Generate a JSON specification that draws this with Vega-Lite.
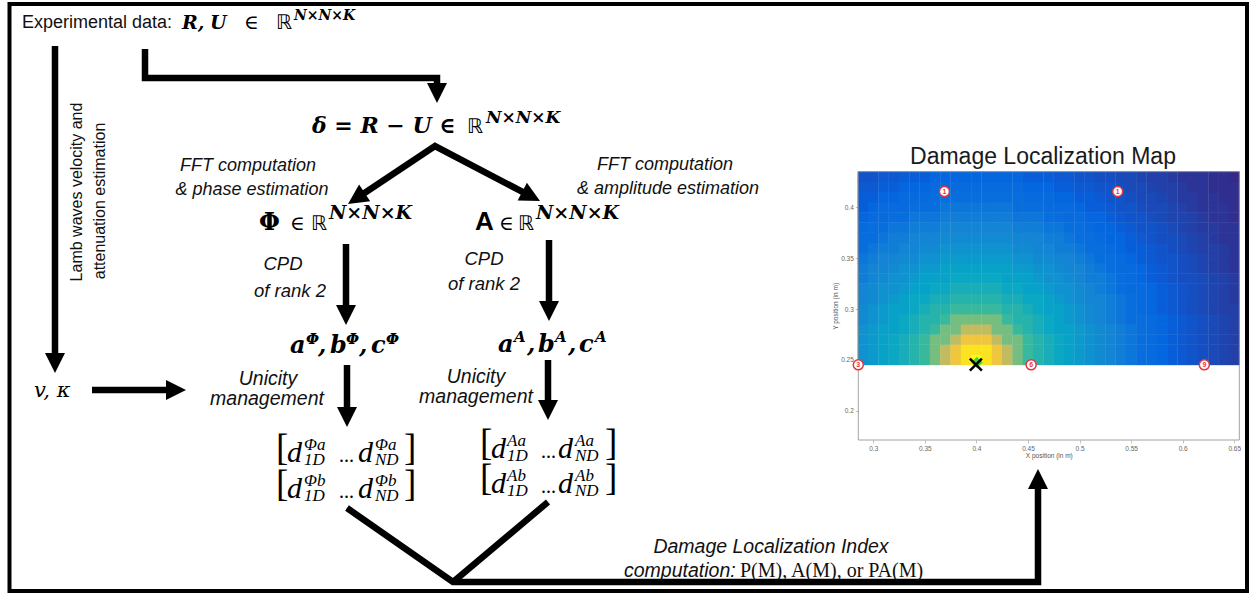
{
"$schema": "https://vega.github.io/schema/vega-lite/v6.json",
"width": 1249, "height": 594, "autosize": "none", "padding": 0, "background": "white",
"config": {"view": {"stroke": null}},
"resolve": {"scale": {"x": "independent", "y": "independent"}, "axis": {"x": "independent", "y": "independent"}},
"layer": [
{
"encoding": {
"x": {"field": "px", "type": "quantitative", "scale": {"domain": [0, 1249], "range": [0, 1249], "nice": false, "zero": false}, "axis": null},
"y": {"field": "py", "type": "quantitative", "scale": {"domain": [0, 594], "range": [0, 594], "nice": false, "zero": false}, "axis": null}
},
"layer": [
{"data": {"values": [{"px": 9.5, "py": 4, "px2": 1247, "py2": 591}]},
 "mark": {"type": "rect", "fill": "transparent", "stroke": "black", "strokeWidth": 4},
 "encoding": {"x2": {"field": "px2"}, "y2": {"field": "py2"}}},
{"data": {"values": [
 {"g": "a", "k": 1, "px": 55, "py": 46}, {"g": "a", "k": 2, "px": 55, "py": 360},
 {"g": "b", "k": 1, "px": 145, "py": 49}, {"g": "b", "k": 2, "px": 145, "py": 78}, {"g": "b", "k": 3, "px": 437, "py": 78}, {"g": "b", "k": 4, "px": 437, "py": 92},
 {"g": "c", "k": 1, "px": 356.3, "py": 198.5}, {"g": "c", "k": 2, "px": 435, "py": 146}, {"g": "c", "k": 3, "px": 531.1, "py": 196.4},
 {"g": "d", "k": 1, "px": 346, "py": 244}, {"g": "d", "k": 2, "px": 346, "py": 312},
 {"g": "e", "k": 1, "px": 549, "py": 240}, {"g": "e", "k": 2, "px": 549, "py": 308},
 {"g": "f", "k": 1, "px": 347, "py": 365}, {"g": "f", "k": 2, "px": 347, "py": 414},
 {"g": "g", "k": 1, "px": 548, "py": 360}, {"g": "g", "k": 2, "px": 548, "py": 407},
 {"g": "h", "k": 1, "px": 92, "py": 390}, {"g": "h", "k": 2, "px": 172, "py": 390},
 {"g": "i", "k": 1, "px": 347, "py": 508}, {"g": "i", "k": 2, "px": 453, "py": 582}, {"g": "i", "k": 3, "px": 1038, "py": 582}, {"g": "i", "k": 4, "px": 1038, "py": 484},
 {"g": "j", "k": 1, "px": 548, "py": 502}, {"g": "j", "k": 2, "px": 453, "py": 582}
 ]},
 "mark": {"type": "line", "color": "black", "strokeWidth": 6.5, "strokeJoin": "miter", "strokeCap": "butt"},
 "encoding": {"detail": {"field": "g"}, "order": {"field": "k", "type": "quantitative"}}},
{"data": {"values": [
 {"px": 55, "py": 373, "ang": 180}, {"px": 437, "py": 103, "ang": 180}, {"px": 348, "py": 204, "ang": 236.3}, {"px": 540, "py": 201, "ang": 117.6},
 {"px": 346, "py": 325, "ang": 180}, {"px": 549, "py": 321, "ang": 180}, {"px": 347, "py": 427, "ang": 180}, {"px": 548, "py": 420, "ang": 180},
 {"px": 186, "py": 390, "ang": 90}, {"px": 1038, "py": 469, "ang": 0}]},
 "mark": {"type": "point", "shape": "M0,0L1,2L-1,2Z", "size": 400, "filled": true, "color": "black", "opacity": 1, "strokeWidth": 0},
 "encoding": {"angle": {"field": "ang", "type": "quantitative", "scale": null}}},
{"data": {"values": [{"px": 22, "py": 28, "t": "Experimental data:"}]},
 "mark": {"type": "text", "font": "Liberation Sans", "fontSize": 18, "align": "left", "baseline": "alphabetic", "color": "#111"},
 "encoding": {"text": {"field": "t"}}},
{"data": {"values": [{"px": 1043, "py": 164, "t": "Damage Localization Map"}]},
 "mark": {"type": "text", "font": "Liberation Sans", "fontSize": 23, "align": "center", "baseline": "alphabetic", "color": "#1a1a1a"},
 "encoding": {"text": {"field": "t"}}},
{"data": {"values": [{"px": 77, "py": 192, "t": "Lamb waves velocity and"}, {"px": 100, "py": 201, "t": "attenuation estimation"}]},
 "mark": {"type": "text", "font": "Liberation Sans", "fontSize": 16, "angle": 270, "align": "center", "baseline": "middle", "color": "#111"},
 "encoding": {"text": {"field": "t"}}},
{"data": {"values": [{"px": 248, "py": 171, "t": "FFT computation"}, {"px": 252, "py": 195, "t": "& phase estimation"}, {"px": 665, "py": 170, "t": "FFT computation"}, {"px": 668, "py": 194, "t": "& amplitude estimation"}]},
 "mark": {"type": "text", "font": "Liberation Sans", "fontSize": 18, "fontStyle": "italic", "align": "center", "baseline": "alphabetic", "color": "#111"},
 "encoding": {"text": {"field": "t"}}},
{"data": {"values": [{"px": 283, "py": 270, "t": "CPD"}, {"px": 290, "py": 297, "t": "of rank 2"}, {"px": 484, "py": 265, "t": "CPD"}, {"px": 484, "py": 290, "t": "of rank 2"}]},
 "mark": {"type": "text", "font": "Liberation Sans", "fontSize": 18.5, "fontStyle": "italic", "align": "center", "baseline": "alphabetic", "color": "#111"},
 "encoding": {"text": {"field": "t"}}},
{"data": {"values": [{"px": 268, "py": 385, "t": "Unicity"}, {"px": 267, "py": 405, "t": "management"}, {"px": 476, "py": 383, "t": "Unicity"}, {"px": 476, "py": 403, "t": "management"}, {"px": 771, "py": 553, "t": "Damage Localization Index"}]},
 "mark": {"type": "text", "font": "Liberation Sans", "fontSize": 19.5, "fontStyle": "italic", "align": "center", "baseline": "alphabetic", "color": "#111"},
 "encoding": {"text": {"field": "t"}}},
{"data": {"values": [{"px": 624, "py": 577, "t": "computation:"}]},
 "mark": {"type": "text", "font": "Liberation Sans", "fontSize": 19.5, "fontStyle": "italic", "align": "left", "baseline": "alphabetic", "color": "#111"},
 "encoding": {"text": {"field": "t"}}},
{"data": {"values": [{"px": 740, "py": 577, "t": "P(M), A(M), or PA(M)"}]},
 "mark": {"type": "text", "font": "Liberation Serif", "fontSize": 20, "align": "left", "baseline": "alphabetic", "color": "#111"},
 "encoding": {"text": {"field": "t"}}},
{"data": {"values": [{"px": 182, "py": 29, "t": "R,"}, {"px": 210, "py": 29, "t": "U"}]},
 "mark": {"type": "text", "font": "DejaVu Serif", "fontSize": 19, "fontWeight": "bold", "fontStyle": "italic", "align": "left", "baseline": "alphabetic", "color": "black"},
 "encoding": {"text": {"field": "t"}}},
{"data": {"values": [{"px": 312, "py": 133, "t": "δ = R − U ∈"}]},
 "mark": {"type": "text", "font": "DejaVu Serif", "fontSize": 22, "fontWeight": "bold", "fontStyle": "italic", "align": "left", "baseline": "alphabetic", "color": "black"},
 "encoding": {"text": {"field": "t"}}},
{"data": {"values": [{"px": 290, "py": 353, "t": "a"}, {"px": 318, "py": 353, "t": ","}, {"px": 330, "py": 353, "t": "b"}, {"px": 359, "py": 353, "t": ","}, {"px": 371, "py": 353, "t": "c"}, {"px": 498, "py": 352, "t": "a"}, {"px": 527, "py": 352, "t": ","}, {"px": 538, "py": 352, "t": "b"}, {"px": 568, "py": 352, "t": ","}, {"px": 579, "py": 352, "t": "c"}]},
 "mark": {"type": "text", "font": "DejaVu Serif", "fontSize": 24, "fontWeight": "bold", "fontStyle": "italic", "align": "left", "baseline": "alphabetic", "color": "black"},
 "encoding": {"text": {"field": "t"}}},
{"data": {"values": [{"px": 294, "py": 20, "t": "N×N×K"}]},
 "mark": {"type": "text", "font": "DejaVu Serif", "fontSize": 14, "fontWeight": "bold", "fontStyle": "italic", "align": "left", "baseline": "alphabetic", "color": "black"},
 "encoding": {"text": {"field": "t"}}},
{"data": {"values": [{"px": 486, "py": 123, "t": "N×N×K"}]},
 "mark": {"type": "text", "font": "DejaVu Serif", "fontSize": 17, "fontWeight": "bold", "fontStyle": "italic", "align": "left", "baseline": "alphabetic", "color": "black"},
 "encoding": {"text": {"field": "t"}}},
{"data": {"values": [{"px": 329, "py": 219, "t": "N×N×K"}, {"px": 536, "py": 219, "t": "N×N×K"}]},
 "mark": {"type": "text", "font": "DejaVu Serif", "fontSize": 19, "fontWeight": "bold", "fontStyle": "italic", "align": "left", "baseline": "alphabetic", "color": "black"},
 "encoding": {"text": {"field": "t"}}},
{"data": {"values": [{"px": 306, "py": 344, "t": "Φ"}, {"px": 346, "py": 344, "t": "Φ"}, {"px": 386, "py": 344, "t": "Φ"}, {"px": 514, "py": 342, "t": "A"}, {"px": 555, "py": 342, "t": "A"}, {"px": 595, "py": 342, "t": "A"}]},
 "mark": {"type": "text", "font": "DejaVu Serif", "fontSize": 15, "fontWeight": "bold", "fontStyle": "italic", "align": "left", "baseline": "alphabetic", "color": "black"},
 "encoding": {"text": {"field": "t"}}},
{"data": {"values": [{"px": 244, "py": 29, "t": "∈"}, {"px": 290, "py": 230, "t": "∈"}, {"px": 499, "py": 230, "t": "∈"}]},
 "mark": {"type": "text", "font": "DejaVu Serif", "fontSize": 20, "align": "left", "baseline": "alphabetic", "color": "black"},
 "encoding": {"text": {"field": "t"}}},
{"data": {"values": [{"px": 276, "py": 29, "t": "ℝ"}, {"px": 467, "py": 133, "t": "ℝ"}, {"px": 311, "py": 230, "t": "ℝ"}, {"px": 518, "py": 230, "t": "ℝ"}]},
 "mark": {"type": "text", "font": "DejaVu Sans", "fontSize": 20, "align": "left", "baseline": "alphabetic", "color": "black"},
 "encoding": {"text": {"field": "t"}}},
{"data": {"values": [{"px": 259, "py": 230, "t": "Φ"}]},
 "mark": {"type": "text", "font": "DejaVu Serif", "fontSize": 24, "fontWeight": "bold", "align": "left", "baseline": "alphabetic", "color": "black"},
 "encoding": {"text": {"field": "t"}}},
{"data": {"values": [{"px": 475, "py": 230, "t": "A"}]},
 "mark": {"type": "text", "font": "Liberation Sans", "fontSize": 26, "fontWeight": "bold", "align": "left", "baseline": "alphabetic", "color": "black"},
 "encoding": {"text": {"field": "t"}}},
{"data": {"values": [{"px": 34, "py": 397, "t": "v, κ"}]},
 "mark": {"type": "text", "font": "DejaVu Serif", "fontSize": 21, "fontStyle": "italic", "align": "left", "baseline": "alphabetic", "color": "black"},
 "encoding": {"text": {"field": "t"}}},
{"data": {"values": [{"px": 276, "py": 460, "t": "["}, {"px": 404, "py": 460, "t": "]"}, {"px": 276, "py": 496, "t": "["}, {"px": 404, "py": 496, "t": "]"}, {"px": 480, "py": 455, "t": "["}, {"px": 605, "py": 455, "t": "]"}, {"px": 480, "py": 490, "t": "["}, {"px": 605, "py": 490, "t": "]"}]},
 "mark": {"type": "text", "font": "Liberation Serif", "fontSize": 37, "align": "left", "baseline": "alphabetic", "color": "black"},
 "encoding": {"text": {"field": "t"}}},
{"data": {"values": [{"px": 287, "py": 462, "t": "d"}, {"px": 358, "py": 462, "t": "d"}, {"px": 287, "py": 498, "t": "d"}, {"px": 358, "py": 498, "t": "d"}, {"px": 491, "py": 458, "t": "d"}, {"px": 558, "py": 458, "t": "d"}, {"px": 491, "py": 493, "t": "d"}, {"px": 558, "py": 493, "t": "d"}]},
 "mark": {"type": "text", "font": "Liberation Serif", "fontSize": 30, "fontStyle": "italic", "align": "left", "baseline": "alphabetic", "color": "black"},
 "encoding": {"text": {"field": "t"}}},
{"data": {"values": [{"px": 339, "py": 462, "t": "..."}, {"px": 339, "py": 498, "t": "..."}, {"px": 541, "py": 458, "t": "..."}, {"px": 541, "py": 493, "t": "..."}]},
 "mark": {"type": "text", "font": "Liberation Serif", "fontSize": 20, "align": "left", "baseline": "alphabetic", "color": "black"},
 "encoding": {"text": {"field": "t"}}},
{"data": {"values": [
 {"px": 304, "py": 450, "t": "Φa"}, {"px": 375, "py": 450, "t": "Φa"}, {"px": 304, "py": 486, "t": "Φb"}, {"px": 375, "py": 486, "t": "Φb"},
 {"px": 507, "py": 446, "t": "Aa"}, {"px": 575, "py": 446, "t": "Aa"}, {"px": 507, "py": 481, "t": "Ab"}, {"px": 575, "py": 481, "t": "Ab"},
 {"px": 304, "py": 465, "t": "1D"}, {"px": 375, "py": 465, "t": "ND"}, {"px": 304, "py": 501, "t": "1D"}, {"px": 375, "py": 501, "t": "ND"},
 {"px": 507, "py": 461, "t": "1D"}, {"px": 575, "py": 461, "t": "ND"}, {"px": 507, "py": 496, "t": "1D"}, {"px": 575, "py": 496, "t": "ND"}]},
 "mark": {"type": "text", "font": "Liberation Serif", "fontSize": 17, "fontStyle": "italic", "align": "left", "baseline": "alphabetic", "color": "black"},
 "encoding": {"text": {"field": "t"}}}
]
},
{
"encoding": {
"x": {"field": "x", "type": "quantitative", "scale": {"domain": [0.2855, 0.6549], "range": [858.3, 1239.3], "nice": false, "zero": false},
 "axis": {"orient": "bottom", "offset": -154, "values": [0.3, 0.35, 0.4, 0.45, 0.5, 0.55, 0.6, 0.65], "format": "~g", "title": "X position (in m)", "titleFont": "Liberation Sans", "titleFontSize": 6.5, "titleFontWeight": "normal", "titleColor": "#555", "titlePadding": 1, "labelFont": "Liberation Sans", "labelFontSize": 6.5, "labelColor": "#666", "labelPadding": 2, "tickSize": 3, "tickColor": "#999", "tickWidth": 0.6, "domain": false, "grid": false, "labelFlush": false, "labelOverlap": false}},
"y": {"field": "y", "type": "quantitative", "scale": {"domain": [0.1712, 0.435], "range": [440, 171.7], "nice": false, "zero": false},
 "axis": {"orient": "left", "offset": -858.3, "values": [0.2, 0.25, 0.3, 0.35, 0.4], "format": "~g", "title": "Y position (in m)", "titleFont": "Liberation Sans", "titleFontSize": 6.5, "titleFontWeight": "normal", "titleColor": "#555", "titlePadding": 2, "labelFont": "Liberation Sans", "labelFontSize": 6.5, "labelColor": "#666", "labelPadding": 2, "tickSize": 3, "tickColor": "#999", "tickWidth": 0.6, "domain": false, "grid": false, "labelFlush": false, "labelOverlap": false}}
},
"layer": [
{"data": {"values": [
{"x":0.29,"y":0.25,"v":0.25},{"x":0.3,"y":0.25,"v":0.28},{"x":0.31,"y":0.25,"v":0.31},{"x":0.32,"y":0.25,"v":0.34},{"x":0.33,"y":0.25,"v":0.38},{"x":0.34,"y":0.25,"v":0.42},{"x":0.35,"y":0.25,"v":0.47},{"x":0.36,"y":0.25,"v":0.56},{"x":0.37,"y":0.25,"v":0.68},{"x":0.38,"y":0.25,"v":0.8},{"x":0.39,"y":0.25,"v":0.92},{"x":0.4,"y":0.25,"v":1},{"x":0.41,"y":0.25,"v":0.92},{"x":0.42,"y":0.25,"v":0.8},{"x":0.43,"y":0.25,"v":0.68},{"x":0.44,"y":0.25,"v":0.56},{"x":0.45,"y":0.25,"v":0.47},{"x":0.46,"y":0.25,"v":0.42},{"x":0.47,"y":0.25,"v":0.38},{"x":0.48,"y":0.25,"v":0.34},{"x":0.49,"y":0.25,"v":0.31},{"x":0.5,"y":0.25,"v":0.28},{"x":0.51,"y":0.25,"v":0.25},{"x":0.52,"y":0.25,"v":0.22},{"x":0.53,"y":0.25,"v":0.2},{"x":0.54,"y":0.25,"v":0.18},{"x":0.55,"y":0.25,"v":0.16},{"x":0.56,"y":0.25,"v":0.14},{"x":0.57,"y":0.25,"v":0.13},{"x":0.58,"y":0.25,"v":0.12},{"x":0.59,"y":0.25,"v":0.1},{"x":0.6,"y":0.25,"v":0.09},{"x":0.61,"y":0.25,"v":0.08},{"x":0.62,"y":0.25,"v":0.07},{"x":0.63,"y":0.25,"v":0.06},{"x":0.64,"y":0.25,"v":0.05},{"x":0.65,"y":0.25,"v":0.04},
{"x":0.29,"y":0.26,"v":0.25},{"x":0.3,"y":0.26,"v":0.28},{"x":0.31,"y":0.26,"v":0.31},{"x":0.32,"y":0.26,"v":0.34},{"x":0.33,"y":0.26,"v":0.38},{"x":0.34,"y":0.26,"v":0.42},{"x":0.35,"y":0.26,"v":0.47},{"x":0.36,"y":0.26,"v":0.56},{"x":0.37,"y":0.26,"v":0.68},{"x":0.38,"y":0.26,"v":0.8},{"x":0.39,"y":0.26,"v":0.92},{"x":0.4,"y":0.26,"v":0.92},{"x":0.41,"y":0.26,"v":0.92},{"x":0.42,"y":0.26,"v":0.8},{"x":0.43,"y":0.26,"v":0.68},{"x":0.44,"y":0.26,"v":0.56},{"x":0.45,"y":0.26,"v":0.47},{"x":0.46,"y":0.26,"v":0.42},{"x":0.47,"y":0.26,"v":0.38},{"x":0.48,"y":0.26,"v":0.34},{"x":0.49,"y":0.26,"v":0.31},{"x":0.5,"y":0.26,"v":0.28},{"x":0.51,"y":0.26,"v":0.25},{"x":0.52,"y":0.26,"v":0.22},{"x":0.53,"y":0.26,"v":0.2},{"x":0.54,"y":0.26,"v":0.18},{"x":0.55,"y":0.26,"v":0.16},{"x":0.56,"y":0.26,"v":0.14},{"x":0.57,"y":0.26,"v":0.13},{"x":0.58,"y":0.26,"v":0.12},{"x":0.59,"y":0.26,"v":0.1},{"x":0.6,"y":0.26,"v":0.09},{"x":0.61,"y":0.26,"v":0.08},{"x":0.62,"y":0.26,"v":0.07},{"x":0.63,"y":0.26,"v":0.06},{"x":0.64,"y":0.26,"v":0.05},{"x":0.65,"y":0.26,"v":0.04},
{"x":0.29,"y":0.27,"v":0.25},{"x":0.3,"y":0.27,"v":0.28},{"x":0.31,"y":0.27,"v":0.31},{"x":0.32,"y":0.27,"v":0.34},{"x":0.33,"y":0.27,"v":0.38},{"x":0.34,"y":0.27,"v":0.42},{"x":0.35,"y":0.27,"v":0.47},{"x":0.36,"y":0.27,"v":0.56},{"x":0.37,"y":0.27,"v":0.56},{"x":0.38,"y":0.27,"v":0.68},{"x":0.39,"y":0.27,"v":0.8},{"x":0.4,"y":0.27,"v":0.8},{"x":0.41,"y":0.27,"v":0.8},{"x":0.42,"y":0.27,"v":0.68},{"x":0.43,"y":0.27,"v":0.56},{"x":0.44,"y":0.27,"v":0.56},{"x":0.45,"y":0.27,"v":0.47},{"x":0.46,"y":0.27,"v":0.42},{"x":0.47,"y":0.27,"v":0.38},{"x":0.48,"y":0.27,"v":0.34},{"x":0.49,"y":0.27,"v":0.31},{"x":0.5,"y":0.27,"v":0.28},{"x":0.51,"y":0.27,"v":0.25},{"x":0.52,"y":0.27,"v":0.22},{"x":0.53,"y":0.27,"v":0.2},{"x":0.54,"y":0.27,"v":0.18},{"x":0.55,"y":0.27,"v":0.16},{"x":0.56,"y":0.27,"v":0.14},{"x":0.57,"y":0.27,"v":0.13},{"x":0.58,"y":0.27,"v":0.12},{"x":0.59,"y":0.27,"v":0.1},{"x":0.6,"y":0.27,"v":0.09},{"x":0.61,"y":0.27,"v":0.08},{"x":0.62,"y":0.27,"v":0.07},{"x":0.63,"y":0.27,"v":0.06},{"x":0.64,"y":0.27,"v":0.05},{"x":0.65,"y":0.27,"v":0.04},
{"x":0.29,"y":0.28,"v":0.25},{"x":0.3,"y":0.28,"v":0.28},{"x":0.31,"y":0.28,"v":0.31},{"x":0.32,"y":0.28,"v":0.31},{"x":0.33,"y":0.28,"v":0.34},{"x":0.34,"y":0.28,"v":0.38},{"x":0.35,"y":0.28,"v":0.42},{"x":0.36,"y":0.28,"v":0.47},{"x":0.37,"y":0.28,"v":0.56},{"x":0.38,"y":0.28,"v":0.56},{"x":0.39,"y":0.28,"v":0.68},{"x":0.4,"y":0.28,"v":0.68},{"x":0.41,"y":0.28,"v":0.68},{"x":0.42,"y":0.28,"v":0.56},{"x":0.43,"y":0.28,"v":0.56},{"x":0.44,"y":0.28,"v":0.47},{"x":0.45,"y":0.28,"v":0.42},{"x":0.46,"y":0.28,"v":0.38},{"x":0.47,"y":0.28,"v":0.34},{"x":0.48,"y":0.28,"v":0.31},{"x":0.49,"y":0.28,"v":0.31},{"x":0.5,"y":0.28,"v":0.28},{"x":0.51,"y":0.28,"v":0.25},{"x":0.52,"y":0.28,"v":0.22},{"x":0.53,"y":0.28,"v":0.2},{"x":0.54,"y":0.28,"v":0.18},{"x":0.55,"y":0.28,"v":0.16},{"x":0.56,"y":0.28,"v":0.14},{"x":0.57,"y":0.28,"v":0.13},{"x":0.58,"y":0.28,"v":0.12},{"x":0.59,"y":0.28,"v":0.1},{"x":0.6,"y":0.28,"v":0.09},{"x":0.61,"y":0.28,"v":0.08},{"x":0.62,"y":0.28,"v":0.07},{"x":0.63,"y":0.28,"v":0.06},{"x":0.64,"y":0.28,"v":0.05},{"x":0.65,"y":0.28,"v":0.04},
{"x":0.29,"y":0.29,"v":0.22},{"x":0.3,"y":0.29,"v":0.25},{"x":0.31,"y":0.29,"v":0.28},{"x":0.32,"y":0.29,"v":0.31},{"x":0.33,"y":0.29,"v":0.34},{"x":0.34,"y":0.29,"v":0.38},{"x":0.35,"y":0.29,"v":0.42},{"x":0.36,"y":0.29,"v":0.42},{"x":0.37,"y":0.29,"v":0.47},{"x":0.38,"y":0.29,"v":0.56},{"x":0.39,"y":0.29,"v":0.56},{"x":0.4,"y":0.29,"v":0.56},{"x":0.41,"y":0.29,"v":0.56},{"x":0.42,"y":0.29,"v":0.56},{"x":0.43,"y":0.29,"v":0.47},{"x":0.44,"y":0.29,"v":0.42},{"x":0.45,"y":0.29,"v":0.42},{"x":0.46,"y":0.29,"v":0.38},{"x":0.47,"y":0.29,"v":0.34},{"x":0.48,"y":0.29,"v":0.31},{"x":0.49,"y":0.29,"v":0.28},{"x":0.5,"y":0.29,"v":0.25},{"x":0.51,"y":0.29,"v":0.22},{"x":0.52,"y":0.29,"v":0.2},{"x":0.53,"y":0.29,"v":0.18},{"x":0.54,"y":0.29,"v":0.16},{"x":0.55,"y":0.29,"v":0.14},{"x":0.56,"y":0.29,"v":0.14},{"x":0.57,"y":0.29,"v":0.13},{"x":0.58,"y":0.29,"v":0.12},{"x":0.59,"y":0.29,"v":0.1},{"x":0.6,"y":0.29,"v":0.09},{"x":0.61,"y":0.29,"v":0.08},{"x":0.62,"y":0.29,"v":0.07},{"x":0.63,"y":0.29,"v":0.06},{"x":0.64,"y":0.29,"v":0.05},{"x":0.65,"y":0.29,"v":0.04},
{"x":0.29,"y":0.3,"v":0.22},{"x":0.3,"y":0.3,"v":0.25},{"x":0.31,"y":0.3,"v":0.28},{"x":0.32,"y":0.3,"v":0.31},{"x":0.33,"y":0.3,"v":0.31},{"x":0.34,"y":0.3,"v":0.34},{"x":0.35,"y":0.3,"v":0.38},{"x":0.36,"y":0.3,"v":0.42},{"x":0.37,"y":0.3,"v":0.42},{"x":0.38,"y":0.3,"v":0.47},{"x":0.39,"y":0.3,"v":0.47},{"x":0.4,"y":0.3,"v":0.47},{"x":0.41,"y":0.3,"v":0.47},{"x":0.42,"y":0.3,"v":0.47},{"x":0.43,"y":0.3,"v":0.42},{"x":0.44,"y":0.3,"v":0.42},{"x":0.45,"y":0.3,"v":0.38},{"x":0.46,"y":0.3,"v":0.34},{"x":0.47,"y":0.3,"v":0.31},{"x":0.48,"y":0.3,"v":0.31},{"x":0.49,"y":0.3,"v":0.28},{"x":0.5,"y":0.3,"v":0.25},{"x":0.51,"y":0.3,"v":0.22},{"x":0.52,"y":0.3,"v":0.2},{"x":0.53,"y":0.3,"v":0.18},{"x":0.54,"y":0.3,"v":0.16},{"x":0.55,"y":0.3,"v":0.14},{"x":0.56,"y":0.3,"v":0.13},{"x":0.57,"y":0.3,"v":0.12},{"x":0.58,"y":0.3,"v":0.1},{"x":0.59,"y":0.3,"v":0.09},{"x":0.6,"y":0.3,"v":0.08},{"x":0.61,"y":0.3,"v":0.07},{"x":0.62,"y":0.3,"v":0.06},{"x":0.63,"y":0.3,"v":0.05},{"x":0.64,"y":0.3,"v":0.04},{"x":0.65,"y":0.3,"v":0.04},
{"x":0.29,"y":0.31,"v":0.2},{"x":0.3,"y":0.31,"v":0.22},{"x":0.31,"y":0.31,"v":0.25},{"x":0.32,"y":0.31,"v":0.28},{"x":0.33,"y":0.31,"v":0.31},{"x":0.34,"y":0.31,"v":0.34},{"x":0.35,"y":0.31,"v":0.34},{"x":0.36,"y":0.31,"v":0.38},{"x":0.37,"y":0.31,"v":0.38},{"x":0.38,"y":0.31,"v":0.42},{"x":0.39,"y":0.31,"v":0.42},{"x":0.4,"y":0.31,"v":0.42},{"x":0.41,"y":0.31,"v":0.42},{"x":0.42,"y":0.31,"v":0.42},{"x":0.43,"y":0.31,"v":0.38},{"x":0.44,"y":0.31,"v":0.38},{"x":0.45,"y":0.31,"v":0.34},{"x":0.46,"y":0.31,"v":0.34},{"x":0.47,"y":0.31,"v":0.31},{"x":0.48,"y":0.31,"v":0.28},{"x":0.49,"y":0.31,"v":0.25},{"x":0.5,"y":0.31,"v":0.22},{"x":0.51,"y":0.31,"v":0.2},{"x":0.52,"y":0.31,"v":0.2},{"x":0.53,"y":0.31,"v":0.18},{"x":0.54,"y":0.31,"v":0.16},{"x":0.55,"y":0.31,"v":0.14},{"x":0.56,"y":0.31,"v":0.13},{"x":0.57,"y":0.31,"v":0.12},{"x":0.58,"y":0.31,"v":0.1},{"x":0.59,"y":0.31,"v":0.09},{"x":0.6,"y":0.31,"v":0.08},{"x":0.61,"y":0.31,"v":0.07},{"x":0.62,"y":0.31,"v":0.06},{"x":0.63,"y":0.31,"v":0.05},{"x":0.64,"y":0.31,"v":0.04},{"x":0.65,"y":0.31,"v":0.03},
{"x":0.29,"y":0.32,"v":0.2},{"x":0.3,"y":0.32,"v":0.22},{"x":0.31,"y":0.32,"v":0.25},{"x":0.32,"y":0.32,"v":0.25},{"x":0.33,"y":0.32,"v":0.28},{"x":0.34,"y":0.32,"v":0.31},{"x":0.35,"y":0.32,"v":0.31},{"x":0.36,"y":0.32,"v":0.34},{"x":0.37,"y":0.32,"v":0.34},{"x":0.38,"y":0.32,"v":0.38},{"x":0.39,"y":0.32,"v":0.38},{"x":0.4,"y":0.32,"v":0.38},{"x":0.41,"y":0.32,"v":0.38},{"x":0.42,"y":0.32,"v":0.38},{"x":0.43,"y":0.32,"v":0.34},{"x":0.44,"y":0.32,"v":0.34},{"x":0.45,"y":0.32,"v":0.31},{"x":0.46,"y":0.32,"v":0.31},{"x":0.47,"y":0.32,"v":0.28},{"x":0.48,"y":0.32,"v":0.25},{"x":0.49,"y":0.32,"v":0.25},{"x":0.5,"y":0.32,"v":0.22},{"x":0.51,"y":0.32,"v":0.2},{"x":0.52,"y":0.32,"v":0.18},{"x":0.53,"y":0.32,"v":0.16},{"x":0.54,"y":0.32,"v":0.14},{"x":0.55,"y":0.32,"v":0.13},{"x":0.56,"y":0.32,"v":0.13},{"x":0.57,"y":0.32,"v":0.12},{"x":0.58,"y":0.32,"v":0.1},{"x":0.59,"y":0.32,"v":0.09},{"x":0.6,"y":0.32,"v":0.08},{"x":0.61,"y":0.32,"v":0.07},{"x":0.62,"y":0.32,"v":0.06},{"x":0.63,"y":0.32,"v":0.05},{"x":0.64,"y":0.32,"v":0.04},{"x":0.65,"y":0.32,"v":0.03},
{"x":0.29,"y":0.33,"v":0.18},{"x":0.3,"y":0.33,"v":0.2},{"x":0.31,"y":0.33,"v":0.22},{"x":0.32,"y":0.33,"v":0.25},{"x":0.33,"y":0.33,"v":0.25},{"x":0.34,"y":0.33,"v":0.28},{"x":0.35,"y":0.33,"v":0.31},{"x":0.36,"y":0.33,"v":0.31},{"x":0.37,"y":0.33,"v":0.31},{"x":0.38,"y":0.33,"v":0.34},{"x":0.39,"y":0.33,"v":0.34},{"x":0.4,"y":0.33,"v":0.34},{"x":0.41,"y":0.33,"v":0.34},{"x":0.42,"y":0.33,"v":0.34},{"x":0.43,"y":0.33,"v":0.31},{"x":0.44,"y":0.33,"v":0.31},{"x":0.45,"y":0.33,"v":0.31},{"x":0.46,"y":0.33,"v":0.28},{"x":0.47,"y":0.33,"v":0.25},{"x":0.48,"y":0.33,"v":0.25},{"x":0.49,"y":0.33,"v":0.22},{"x":0.5,"y":0.33,"v":0.2},{"x":0.51,"y":0.33,"v":0.18},{"x":0.52,"y":0.33,"v":0.18},{"x":0.53,"y":0.33,"v":0.16},{"x":0.54,"y":0.33,"v":0.14},{"x":0.55,"y":0.33,"v":0.13},{"x":0.56,"y":0.33,"v":0.12},{"x":0.57,"y":0.33,"v":0.1},{"x":0.58,"y":0.33,"v":0.09},{"x":0.59,"y":0.33,"v":0.08},{"x":0.6,"y":0.33,"v":0.07},{"x":0.61,"y":0.33,"v":0.07},{"x":0.62,"y":0.33,"v":0.06},{"x":0.63,"y":0.33,"v":0.05},{"x":0.64,"y":0.33,"v":0.04},{"x":0.65,"y":0.33,"v":0.03},
{"x":0.29,"y":0.34,"v":0.18},{"x":0.3,"y":0.34,"v":0.2},{"x":0.31,"y":0.34,"v":0.2},{"x":0.32,"y":0.34,"v":0.22},{"x":0.33,"y":0.34,"v":0.25},{"x":0.34,"y":0.34,"v":0.25},{"x":0.35,"y":0.34,"v":0.28},{"x":0.36,"y":0.34,"v":0.28},{"x":0.37,"y":0.34,"v":0.31},{"x":0.38,"y":0.34,"v":0.31},{"x":0.39,"y":0.34,"v":0.31},{"x":0.4,"y":0.34,"v":0.31},{"x":0.41,"y":0.34,"v":0.31},{"x":0.42,"y":0.34,"v":0.31},{"x":0.43,"y":0.34,"v":0.31},{"x":0.44,"y":0.34,"v":0.28},{"x":0.45,"y":0.34,"v":0.28},{"x":0.46,"y":0.34,"v":0.25},{"x":0.47,"y":0.34,"v":0.25},{"x":0.48,"y":0.34,"v":0.22},{"x":0.49,"y":0.34,"v":0.2},{"x":0.5,"y":0.34,"v":0.2},{"x":0.51,"y":0.34,"v":0.18},{"x":0.52,"y":0.34,"v":0.16},{"x":0.53,"y":0.34,"v":0.14},{"x":0.54,"y":0.34,"v":0.13},{"x":0.55,"y":0.34,"v":0.13},{"x":0.56,"y":0.34,"v":0.12},{"x":0.57,"y":0.34,"v":0.1},{"x":0.58,"y":0.34,"v":0.09},{"x":0.59,"y":0.34,"v":0.08},{"x":0.6,"y":0.34,"v":0.07},{"x":0.61,"y":0.34,"v":0.06},{"x":0.62,"y":0.34,"v":0.05},{"x":0.63,"y":0.34,"v":0.04},{"x":0.64,"y":0.34,"v":0.03},{"x":0.65,"y":0.34,"v":0.02},
{"x":0.29,"y":0.35,"v":0.16},{"x":0.3,"y":0.35,"v":0.18},{"x":0.31,"y":0.35,"v":0.2},{"x":0.32,"y":0.35,"v":0.2},{"x":0.33,"y":0.35,"v":0.22},{"x":0.34,"y":0.35,"v":0.22},{"x":0.35,"y":0.35,"v":0.25},{"x":0.36,"y":0.35,"v":0.25},{"x":0.37,"y":0.35,"v":0.28},{"x":0.38,"y":0.35,"v":0.28},{"x":0.39,"y":0.35,"v":0.28},{"x":0.4,"y":0.35,"v":0.28},{"x":0.41,"y":0.35,"v":0.28},{"x":0.42,"y":0.35,"v":0.28},{"x":0.43,"y":0.35,"v":0.28},{"x":0.44,"y":0.35,"v":0.25},{"x":0.45,"y":0.35,"v":0.25},{"x":0.46,"y":0.35,"v":0.22},{"x":0.47,"y":0.35,"v":0.22},{"x":0.48,"y":0.35,"v":0.2},{"x":0.49,"y":0.35,"v":0.2},{"x":0.5,"y":0.35,"v":0.18},{"x":0.51,"y":0.35,"v":0.16},{"x":0.52,"y":0.35,"v":0.14},{"x":0.53,"y":0.35,"v":0.14},{"x":0.54,"y":0.35,"v":0.13},{"x":0.55,"y":0.35,"v":0.12},{"x":0.56,"y":0.35,"v":0.1},{"x":0.57,"y":0.35,"v":0.09},{"x":0.58,"y":0.35,"v":0.08},{"x":0.59,"y":0.35,"v":0.08},{"x":0.6,"y":0.35,"v":0.07},{"x":0.61,"y":0.35,"v":0.06},{"x":0.62,"y":0.35,"v":0.05},{"x":0.63,"y":0.35,"v":0.04},{"x":0.64,"y":0.35,"v":0.03},{"x":0.65,"y":0.35,"v":0.02},
{"x":0.29,"y":0.36,"v":0.14},{"x":0.3,"y":0.36,"v":0.16},{"x":0.31,"y":0.36,"v":0.18},{"x":0.32,"y":0.36,"v":0.18},{"x":0.33,"y":0.36,"v":0.2},{"x":0.34,"y":0.36,"v":0.2},{"x":0.35,"y":0.36,"v":0.22},{"x":0.36,"y":0.36,"v":0.22},{"x":0.37,"y":0.36,"v":0.25},{"x":0.38,"y":0.36,"v":0.25},{"x":0.39,"y":0.36,"v":0.25},{"x":0.4,"y":0.36,"v":0.25},{"x":0.41,"y":0.36,"v":0.25},{"x":0.42,"y":0.36,"v":0.25},{"x":0.43,"y":0.36,"v":0.25},{"x":0.44,"y":0.36,"v":0.22},{"x":0.45,"y":0.36,"v":0.22},{"x":0.46,"y":0.36,"v":0.2},{"x":0.47,"y":0.36,"v":0.2},{"x":0.48,"y":0.36,"v":0.18},{"x":0.49,"y":0.36,"v":0.18},{"x":0.5,"y":0.36,"v":0.16},{"x":0.51,"y":0.36,"v":0.14},{"x":0.52,"y":0.36,"v":0.14},{"x":0.53,"y":0.36,"v":0.13},{"x":0.54,"y":0.36,"v":0.12},{"x":0.55,"y":0.36,"v":0.1},{"x":0.56,"y":0.36,"v":0.1},{"x":0.57,"y":0.36,"v":0.09},{"x":0.58,"y":0.36,"v":0.08},{"x":0.59,"y":0.36,"v":0.07},{"x":0.6,"y":0.36,"v":0.06},{"x":0.61,"y":0.36,"v":0.05},{"x":0.62,"y":0.36,"v":0.04},{"x":0.63,"y":0.36,"v":0.04},{"x":0.64,"y":0.36,"v":0.03},{"x":0.65,"y":0.36,"v":0.02},
{"x":0.29,"y":0.37,"v":0.14},{"x":0.3,"y":0.37,"v":0.14},{"x":0.31,"y":0.37,"v":0.16},{"x":0.32,"y":0.37,"v":0.18},{"x":0.33,"y":0.37,"v":0.18},{"x":0.34,"y":0.37,"v":0.2},{"x":0.35,"y":0.37,"v":0.2},{"x":0.36,"y":0.37,"v":0.2},{"x":0.37,"y":0.37,"v":0.22},{"x":0.38,"y":0.37,"v":0.22},{"x":0.39,"y":0.37,"v":0.22},{"x":0.4,"y":0.37,"v":0.22},{"x":0.41,"y":0.37,"v":0.22},{"x":0.42,"y":0.37,"v":0.22},{"x":0.43,"y":0.37,"v":0.22},{"x":0.44,"y":0.37,"v":0.2},{"x":0.45,"y":0.37,"v":0.2},{"x":0.46,"y":0.37,"v":0.2},{"x":0.47,"y":0.37,"v":0.18},{"x":0.48,"y":0.37,"v":0.18},{"x":0.49,"y":0.37,"v":0.16},{"x":0.5,"y":0.37,"v":0.14},{"x":0.51,"y":0.37,"v":0.14},{"x":0.52,"y":0.37,"v":0.13},{"x":0.53,"y":0.37,"v":0.12},{"x":0.54,"y":0.37,"v":0.12},{"x":0.55,"y":0.37,"v":0.1},{"x":0.56,"y":0.37,"v":0.09},{"x":0.57,"y":0.37,"v":0.08},{"x":0.58,"y":0.37,"v":0.07},{"x":0.59,"y":0.37,"v":0.07},{"x":0.6,"y":0.37,"v":0.06},{"x":0.61,"y":0.37,"v":0.05},{"x":0.62,"y":0.37,"v":0.04},{"x":0.63,"y":0.37,"v":0.03},{"x":0.64,"y":0.37,"v":0.02},{"x":0.65,"y":0.37,"v":0.02},
{"x":0.29,"y":0.38,"v":0.13},{"x":0.3,"y":0.38,"v":0.14},{"x":0.31,"y":0.38,"v":0.14},{"x":0.32,"y":0.38,"v":0.16},{"x":0.33,"y":0.38,"v":0.16},{"x":0.34,"y":0.38,"v":0.18},{"x":0.35,"y":0.38,"v":0.18},{"x":0.36,"y":0.38,"v":0.18},{"x":0.37,"y":0.38,"v":0.2},{"x":0.38,"y":0.38,"v":0.2},{"x":0.39,"y":0.38,"v":0.2},{"x":0.4,"y":0.38,"v":0.2},{"x":0.41,"y":0.38,"v":0.2},{"x":0.42,"y":0.38,"v":0.2},{"x":0.43,"y":0.38,"v":0.2},{"x":0.44,"y":0.38,"v":0.18},{"x":0.45,"y":0.38,"v":0.18},{"x":0.46,"y":0.38,"v":0.18},{"x":0.47,"y":0.38,"v":0.16},{"x":0.48,"y":0.38,"v":0.16},{"x":0.49,"y":0.38,"v":0.14},{"x":0.5,"y":0.38,"v":0.14},{"x":0.51,"y":0.38,"v":0.13},{"x":0.52,"y":0.38,"v":0.12},{"x":0.53,"y":0.38,"v":0.12},{"x":0.54,"y":0.38,"v":0.1},{"x":0.55,"y":0.38,"v":0.09},{"x":0.56,"y":0.38,"v":0.08},{"x":0.57,"y":0.38,"v":0.08},{"x":0.58,"y":0.38,"v":0.07},{"x":0.59,"y":0.38,"v":0.06},{"x":0.6,"y":0.38,"v":0.05},{"x":0.61,"y":0.38,"v":0.04},{"x":0.62,"y":0.38,"v":0.03},{"x":0.63,"y":0.38,"v":0.03},{"x":0.64,"y":0.38,"v":0.02},{"x":0.65,"y":0.38,"v":0.02},
{"x":0.29,"y":0.39,"v":0.12},{"x":0.3,"y":0.39,"v":0.13},{"x":0.31,"y":0.39,"v":0.13},{"x":0.32,"y":0.39,"v":0.14},{"x":0.33,"y":0.39,"v":0.14},{"x":0.34,"y":0.39,"v":0.16},{"x":0.35,"y":0.39,"v":0.16},{"x":0.36,"y":0.39,"v":0.16},{"x":0.37,"y":0.39,"v":0.18},{"x":0.38,"y":0.39,"v":0.18},{"x":0.39,"y":0.39,"v":0.18},{"x":0.4,"y":0.39,"v":0.18},{"x":0.41,"y":0.39,"v":0.18},{"x":0.42,"y":0.39,"v":0.18},{"x":0.43,"y":0.39,"v":0.18},{"x":0.44,"y":0.39,"v":0.16},{"x":0.45,"y":0.39,"v":0.16},{"x":0.46,"y":0.39,"v":0.16},{"x":0.47,"y":0.39,"v":0.14},{"x":0.48,"y":0.39,"v":0.14},{"x":0.49,"y":0.39,"v":0.13},{"x":0.5,"y":0.39,"v":0.13},{"x":0.51,"y":0.39,"v":0.12},{"x":0.52,"y":0.39,"v":0.12},{"x":0.53,"y":0.39,"v":0.1},{"x":0.54,"y":0.39,"v":0.09},{"x":0.55,"y":0.39,"v":0.08},{"x":0.56,"y":0.39,"v":0.08},{"x":0.57,"y":0.39,"v":0.07},{"x":0.58,"y":0.39,"v":0.06},{"x":0.59,"y":0.39,"v":0.05},{"x":0.6,"y":0.39,"v":0.05},{"x":0.61,"y":0.39,"v":0.04},{"x":0.62,"y":0.39,"v":0.03},{"x":0.63,"y":0.39,"v":0.02},{"x":0.64,"y":0.39,"v":0.02},{"x":0.65,"y":0.39,"v":0.01},
{"x":0.29,"y":0.4,"v":0.1},{"x":0.3,"y":0.4,"v":0.12},{"x":0.31,"y":0.4,"v":0.13},{"x":0.32,"y":0.4,"v":0.13},{"x":0.33,"y":0.4,"v":0.13},{"x":0.34,"y":0.4,"v":0.14},{"x":0.35,"y":0.4,"v":0.14},{"x":0.36,"y":0.4,"v":0.14},{"x":0.37,"y":0.4,"v":0.16},{"x":0.38,"y":0.4,"v":0.16},{"x":0.39,"y":0.4,"v":0.16},{"x":0.4,"y":0.4,"v":0.16},{"x":0.41,"y":0.4,"v":0.16},{"x":0.42,"y":0.4,"v":0.16},{"x":0.43,"y":0.4,"v":0.16},{"x":0.44,"y":0.4,"v":0.14},{"x":0.45,"y":0.4,"v":0.14},{"x":0.46,"y":0.4,"v":0.14},{"x":0.47,"y":0.4,"v":0.13},{"x":0.48,"y":0.4,"v":0.13},{"x":0.49,"y":0.4,"v":0.13},{"x":0.5,"y":0.4,"v":0.12},{"x":0.51,"y":0.4,"v":0.1},{"x":0.52,"y":0.4,"v":0.1},{"x":0.53,"y":0.4,"v":0.09},{"x":0.54,"y":0.4,"v":0.08},{"x":0.55,"y":0.4,"v":0.08},{"x":0.56,"y":0.4,"v":0.07},{"x":0.57,"y":0.4,"v":0.06},{"x":0.58,"y":0.4,"v":0.06},{"x":0.59,"y":0.4,"v":0.05},{"x":0.6,"y":0.4,"v":0.04},{"x":0.61,"y":0.4,"v":0.03},{"x":0.62,"y":0.4,"v":0.02},{"x":0.63,"y":0.4,"v":0.02},{"x":0.64,"y":0.4,"v":0.02},{"x":0.65,"y":0.4,"v":0.01},
{"x":0.29,"y":0.41,"v":0.1},{"x":0.3,"y":0.41,"v":0.1},{"x":0.31,"y":0.41,"v":0.12},{"x":0.32,"y":0.41,"v":0.12},{"x":0.33,"y":0.41,"v":0.13},{"x":0.34,"y":0.41,"v":0.13},{"x":0.35,"y":0.41,"v":0.13},{"x":0.36,"y":0.41,"v":0.14},{"x":0.37,"y":0.41,"v":0.14},{"x":0.38,"y":0.41,"v":0.14},{"x":0.39,"y":0.41,"v":0.14},{"x":0.4,"y":0.41,"v":0.14},{"x":0.41,"y":0.41,"v":0.14},{"x":0.42,"y":0.41,"v":0.14},{"x":0.43,"y":0.41,"v":0.14},{"x":0.44,"y":0.41,"v":0.14},{"x":0.45,"y":0.41,"v":0.13},{"x":0.46,"y":0.41,"v":0.13},{"x":0.47,"y":0.41,"v":0.13},{"x":0.48,"y":0.41,"v":0.12},{"x":0.49,"y":0.41,"v":0.12},{"x":0.5,"y":0.41,"v":0.1},{"x":0.51,"y":0.41,"v":0.1},{"x":0.52,"y":0.41,"v":0.09},{"x":0.53,"y":0.41,"v":0.08},{"x":0.54,"y":0.41,"v":0.08},{"x":0.55,"y":0.41,"v":0.07},{"x":0.56,"y":0.41,"v":0.06},{"x":0.57,"y":0.41,"v":0.06},{"x":0.58,"y":0.41,"v":0.05},{"x":0.59,"y":0.41,"v":0.04},{"x":0.6,"y":0.41,"v":0.03},{"x":0.61,"y":0.41,"v":0.03},{"x":0.62,"y":0.41,"v":0.02},{"x":0.63,"y":0.41,"v":0.02},{"x":0.64,"y":0.41,"v":0.01},{"x":0.65,"y":0.41,"v":0.01},
{"x":0.29,"y":0.42,"v":0.09},{"x":0.3,"y":0.42,"v":0.09},{"x":0.31,"y":0.42,"v":0.1},{"x":0.32,"y":0.42,"v":0.1},{"x":0.33,"y":0.42,"v":0.12},{"x":0.34,"y":0.42,"v":0.12},{"x":0.35,"y":0.42,"v":0.12},{"x":0.36,"y":0.42,"v":0.13},{"x":0.37,"y":0.42,"v":0.13},{"x":0.38,"y":0.42,"v":0.13},{"x":0.39,"y":0.42,"v":0.13},{"x":0.4,"y":0.42,"v":0.13},{"x":0.41,"y":0.42,"v":0.13},{"x":0.42,"y":0.42,"v":0.13},{"x":0.43,"y":0.42,"v":0.13},{"x":0.44,"y":0.42,"v":0.13},{"x":0.45,"y":0.42,"v":0.12},{"x":0.46,"y":0.42,"v":0.12},{"x":0.47,"y":0.42,"v":0.12},{"x":0.48,"y":0.42,"v":0.1},{"x":0.49,"y":0.42,"v":0.1},{"x":0.5,"y":0.42,"v":0.09},{"x":0.51,"y":0.42,"v":0.09},{"x":0.52,"y":0.42,"v":0.08},{"x":0.53,"y":0.42,"v":0.08},{"x":0.54,"y":0.42,"v":0.07},{"x":0.55,"y":0.42,"v":0.06},{"x":0.56,"y":0.42,"v":0.06},{"x":0.57,"y":0.42,"v":0.05},{"x":0.58,"y":0.42,"v":0.04},{"x":0.59,"y":0.42,"v":0.04},{"x":0.6,"y":0.42,"v":0.03},{"x":0.61,"y":0.42,"v":0.02},{"x":0.62,"y":0.42,"v":0.02},{"x":0.63,"y":0.42,"v":0.01},{"x":0.64,"y":0.42,"v":0.01},{"x":0.65,"y":0.42,"v":0.01},
{"x":0.29,"y":0.43,"v":0.08},{"x":0.3,"y":0.43,"v":0.08},{"x":0.31,"y":0.43,"v":0.09},{"x":0.32,"y":0.43,"v":0.09},{"x":0.33,"y":0.43,"v":0.1},{"x":0.34,"y":0.43,"v":0.1},{"x":0.35,"y":0.43,"v":0.1},{"x":0.36,"y":0.43,"v":0.12},{"x":0.37,"y":0.43,"v":0.12},{"x":0.38,"y":0.43,"v":0.12},{"x":0.39,"y":0.43,"v":0.12},{"x":0.4,"y":0.43,"v":0.12},{"x":0.41,"y":0.43,"v":0.12},{"x":0.42,"y":0.43,"v":0.12},{"x":0.43,"y":0.43,"v":0.12},{"x":0.44,"y":0.43,"v":0.12},{"x":0.45,"y":0.43,"v":0.1},{"x":0.46,"y":0.43,"v":0.1},{"x":0.47,"y":0.43,"v":0.1},{"x":0.48,"y":0.43,"v":0.09},{"x":0.49,"y":0.43,"v":0.09},{"x":0.5,"y":0.43,"v":0.08},{"x":0.51,"y":0.43,"v":0.08},{"x":0.52,"y":0.43,"v":0.07},{"x":0.53,"y":0.43,"v":0.07},{"x":0.54,"y":0.43,"v":0.06},{"x":0.55,"y":0.43,"v":0.06},{"x":0.56,"y":0.43,"v":0.05},{"x":0.57,"y":0.43,"v":0.04},{"x":0.58,"y":0.43,"v":0.04},{"x":0.59,"y":0.43,"v":0.03},{"x":0.6,"y":0.43,"v":0.02},{"x":0.61,"y":0.43,"v":0.02},{"x":0.62,"y":0.43,"v":0.02},{"x":0.63,"y":0.43,"v":0.01},{"x":0.64,"y":0.43,"v":0.01},{"x":0.65,"y":0.43,"v":0}
 ]},
 "mark": {"type": "square", "size": 113, "opacity": 1, "strokeWidth": 0},
 "encoding": {"color": {"field": "v", "type": "quantitative", "legend": null,
  "scale": {"type": "linear", "domain": [0, 0.11, 0.2, 0.33, 0.47, 0.6, 0.72, 0.85, 1], "range": ["#352a87", "#0363e1", "#1485d4", "#06a7c6", "#38b99e", "#92bf73", "#d9ba56", "#fcce2e", "#f9fb0e"], "interpolate": "rgb"}}}},
{"data": {"values": [{"x": 0.2855, "y": 0.1712, "x2": 0.6549, "y2": 0.435}]},
 "mark": {"type": "rect", "fill": "transparent", "stroke": "#8c8c8c", "strokeWidth": 0.8},
 "encoding": {"x2": {"field": "x2"}, "y2": {"field": "y2"}}},
{"data": {"values": [{"x": 0.4005, "y": 0.2475}]},
 "mark": {"type": "point", "shape": "diamond", "size": 130, "filled": true, "fill": "#3fd43f", "opacity": 1, "strokeWidth": 0}},
{"data": {"values": [{"x": 0.3995, "y": 0.2452}]},
 "mark": {"type": "point", "shape": "M-1,-1L1,1M1,-1L-1,1", "size": 144, "filled": false, "stroke": "black", "strokeWidth": 2.5, "opacity": 1}},
{"data": {"values": [{"x": 0.369, "y": 0.4155, "id": "1"}, {"x": 0.537, "y": 0.4155, "id": "1"}, {"x": 0.2855, "y": 0.2451, "id": "3"}, {"x": 0.4531, "y": 0.2451, "id": "6"}, {"x": 0.621, "y": 0.2451, "id": "9"}]},
 "layer": [
  {"mark": {"type": "point", "shape": "circle", "size": 100, "filled": true, "fill": "white", "stroke": "#e8363c", "strokeWidth": 1.5, "opacity": 1}},
  {"mark": {"type": "text", "font": "Liberation Sans", "fontSize": 7, "fontWeight": "bold", "align": "center", "baseline": "middle", "color": "#e8363c"},
   "encoding": {"text": {"field": "id"}}}
 ]}
]
}
]
}
